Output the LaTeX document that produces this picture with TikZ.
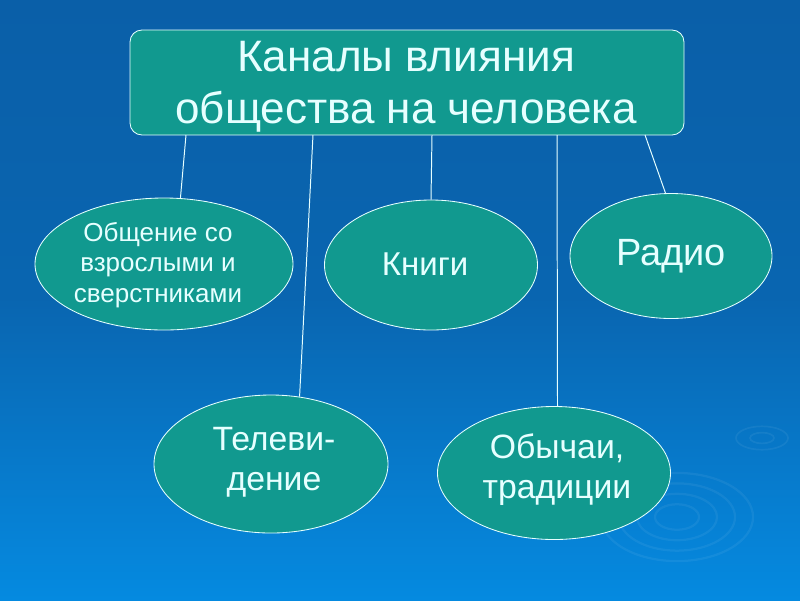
\documentclass[tikz,border=0pt]{standalone}
\usepackage{fontspec}
\setmainfont{Liberation Sans}
\usetikzlibrary{shapes.geometric}
\definecolor{bgtop}{HTML}{0A5FA8}
\definecolor{bgbot}{HTML}{058AE0}
\definecolor{tuerkis}{HTML}{11998F}
\definecolor{rand}{HTML}{E6FFFF}
\begin{document}
\begin{tikzpicture}[x=0.025cm,y=-0.025cm,
	oval/.style={ellipse,draw=rand,line width=0.6pt,fill=tuerkis,
		text=rand,align=center,inner sep=0pt},
	kanal/.style={draw=rand,line width=0.7pt}]
\shade[top color=bgtop,bottom color=bgbot,middle color=bgtop!85!bgbot]
	(0,0) rectangle (800,600);
% Wellen unten rechts
\foreach \r in {22,40,58,76}
	\draw[white,opacity=0.06,line width=1.6pt] (677,517) ellipse ({\r} and {0.58*\r});
\foreach \r in {12,26}
	\draw[white,opacity=0.06,line width=1.2pt] (762,438) ellipse ({\r} and {0.45*\r});

\node[draw=rand,line width=0.6pt,fill=tuerkis,rounded corners=8.5pt,
	minimum width=554*0.025cm,minimum height=105*0.025cm] (titel) at (407,82.5) {};
\node[text=rand,align=center,font=\fontsize{31.3}{37}\selectfont] at (406,87)
	{Каналы влияния\\общества на человека};

\node[oval,minimum width=258*0.025cm,minimum height=132*0.025cm] (umgang) at (164,264) {};
\node[text=rand,align=center,font=\fontsize{18.5}{21.5}\selectfont] at (158,265)
	{Общение со\\взрослыми и\\сверстниками};
\node[oval,minimum width=213*0.025cm,minimum height=130*0.025cm] (buecher) at (431,265) {};
\node[text=rand,font=\fontsize{23.5}{28}\selectfont] at (425,264) {Книги};
\node[oval,minimum width=202*0.025cm,minimum height=125*0.025cm] (radio) at (671,256) {};
\node[text=rand,font=\fontsize{27}{32}\selectfont] at (671,256) {Радио};
\node[oval,minimum width=234*0.025cm,minimum height=138*0.025cm] (tv) at (271,464) {};
\node[text=rand,align=center,font=\fontsize{24}{28.5}\selectfont] at (274,462)
	{Телеви-\\дение};
\node[oval,minimum width=233*0.025cm,minimum height=133*0.025cm] (sitten) at (554,473) {};
\node[text=rand,align=center,font=\fontsize{24}{28.5}\selectfont] at (557,470)
	{Обычаи,\\традиции};

\coordinate (k1) at (186,135);
\coordinate (k2) at (313,135);
\coordinate (k3) at (432,135);
\coordinate (k4) at (557,135);
\coordinate (k5) at (645,135);
\draw[kanal] (k1)--(umgang.76);
\draw[kanal] (k2)--(tv.67);
\draw[kanal] (k3)--(buecher.north);
\draw[kanal] (k4)--(sitten.87);
\draw[kanal] (k5)--(radio.95);
\end{tikzpicture}
\end{document}
